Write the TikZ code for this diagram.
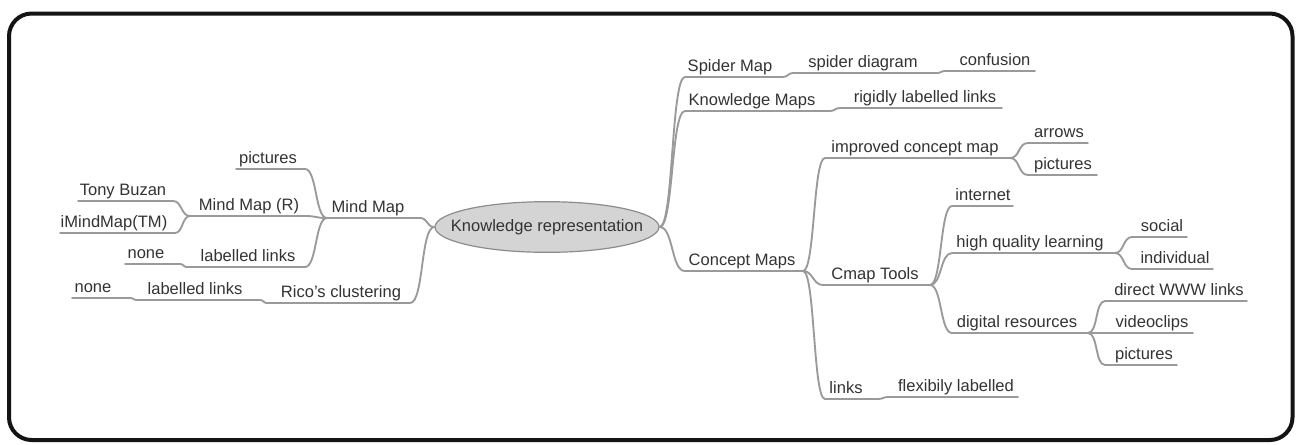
\documentclass[tikz,border=0pt]{standalone}
\usepackage{fontspec}
\setmainfont{Liberation Sans}
\usetikzlibrary{shapes.geometric}

\definecolor{linkgray}{HTML}{9A9A9A}
\definecolor{txtgray}{HTML}{333333}
\definecolor{rootfill}{HTML}{D4D4D4}
\definecolor{rootline}{HTML}{8C8C8C}

% a topic: underline ends (name-a near the parent, name-b far end) and its label
\newcommand\mmitem[6]{%
  \coordinate (#1-a) at (#4,#3);
  \coordinate (#1-b) at (#5,#3);
  \node[lbl] (#1) at (#2,#3-6) {#6};
}
% branch growing to the right / to the left
\newcommand\mmlinkR[3]{\draw[link] (#1) .. controls +(#3,0) and +(-#3,0) .. (#2-a) -- (#2-b);}
\newcommand\mmlinkL[3]{\draw[link] (#1) .. controls +(-#3,0) and +(#3,0) .. (#2-a) -- (#2-b);}

\begin{document}
\begin{tikzpicture}[x=0.75pt,y=-0.75pt,
  lbl/.style={anchor=base,inner sep=0pt,text=txtgray,font=\fontsize{12.4}{14}\selectfont},
  link/.style={draw=linkgray,line width=1.4pt,line cap=round,line join=round},
  rootnode/.style={ellipse,draw=rootline,fill=rootfill,line width=0.9pt,
    minimum width=168pt,minimum height=38pt,inner sep=0pt}]

\useasboundingbox (0,0) rectangle (1301,444);
\fill[white] (0,0) rectangle (1301,444);

% frame
\draw[line width=3pt,draw=black!92,rounded corners=17pt] (9,13.5) rectangle (1292.5,440);

% central topic: the oval and its caption
\node[rootnode] (root) at (547,227) {};
\node[lbl,anchor=center] (root-text) at (root.center) {Knowledge representation};

% ---- left side ----
\mmitem{mm}{368}{218}{420}{327}{Mind Map}
\mmitem{rico}{341}{303}{410}{267}{Rico's clustering}
\mmitem{pic1}{268}{169}{305}{236}{pictures}
\mmitem{mmr}{249}{216}{305}{190}{Mind Map (R)}
\mmitem{ll1}{248}{267}{305}{187}{labelled links}
\mmitem{tony}{123}{201}{173}{78}{Tony Buzan}
\mmitem{imm}{114}{233}{175}{60}{iMindMap(TM)}
\mmitem{none1}{146}{264}{180}{125}{none}
\mmitem{ll2}{195}{300}{260}{137}{labelled links}
\mmitem{none2}{93}{298}{130}{72}{none}

\mmlinkL{root.west}{mm}{8}
\mmlinkL{root.west}{rico}{14}
\mmlinkL{mm-b}{pic1}{12}
\mmlinkL{mm-b}{mmr}{12}
\mmlinkL{mm-b}{ll1}{12}
\mmlinkL{mmr-b}{tony}{9}
\mmlinkL{mmr-b}{imm}{8}
\mmlinkL{ll1-b}{none1}{4}
\mmlinkL{rico-b}{ll2}{4}
\mmlinkL{ll2-b}{none2}{4}

% ---- right side ----
\mmitem{spider}{730}{77}{685}{783}{Spider Map}
\mmitem{km}{752}{111}{685}{830}{Knowledge Maps}
\mmitem{cm}{742}{271}{685}{803}{Concept Maps}
\mmitem{sd}{863}{73}{793}{937}{spider diagram}
\mmitem{conf}{995}{71}{945}{1035}{confusion}
\mmitem{rll}{925}{108}{840}{1002}{rigidly labelled links}
\mmitem{icm}{915}{158}{825}{1010}{improved concept map}
\mmitem{cmap}{875}{285}{823}{930}{Cmap Tools}
\mmitem{links}{846}{399}{825}{878}{links}
\mmitem{flex}{956}{397}{888}{1018}{flexibily labelled}
\mmitem{arrows}{1059}{143}{1028}{1088}{arrows}
\mmitem{pic2}{1063}{175}{1028}{1097}{pictures}
\mmitem{inet}{983}{206}{952}{1013}{internet}
\mmitem{hql}{1030}{253}{952}{1115}{high quality learning}
\mmitem{dig}{1017}{333}{952}{1088}{digital resources}
\mmitem{social}{1162}{237}{1132}{1187}{social}
\mmitem{indiv}{1175}{269}{1132}{1213}{individual}
\mmitem{www}{1179}{301}{1105}{1247}{direct WWW links}
\mmitem{video}{1152}{333}{1105}{1193}{videoclips}
\mmitem{pic3}{1144}{365}{1105}{1177}{pictures}

\mmlinkR{root.east}{spider}{14}
\mmlinkR{root.east}{km}{14}
\mmlinkR{root.east}{cm}{14}
\mmlinkR{spider-b}{sd}{5}
\mmlinkR{sd-b}{conf}{4}
\mmlinkR{km-b}{rll}{5}
\mmlinkR{cm-b}{icm}{12}
\mmlinkR{cm-b}{cmap}{10}
\mmlinkR{cm-b}{links}{12}
\mmlinkR{links-b}{flex}{5}
\mmlinkR{icm-b}{arrows}{10}
\mmlinkR{icm-b}{pic2}{10}
\mmlinkR{cmap-b}{inet}{12}
\mmlinkR{cmap-b}{hql}{12}
\mmlinkR{cmap-b}{dig}{12}
\mmlinkR{hql-b}{social}{9}
\mmlinkR{hql-b}{indiv}{9}
\mmlinkR{dig-b}{www}{10}
\mmlinkR{dig-b}{video}{10}
\mmlinkR{dig-b}{pic3}{10}

\end{tikzpicture}
\end{document}
